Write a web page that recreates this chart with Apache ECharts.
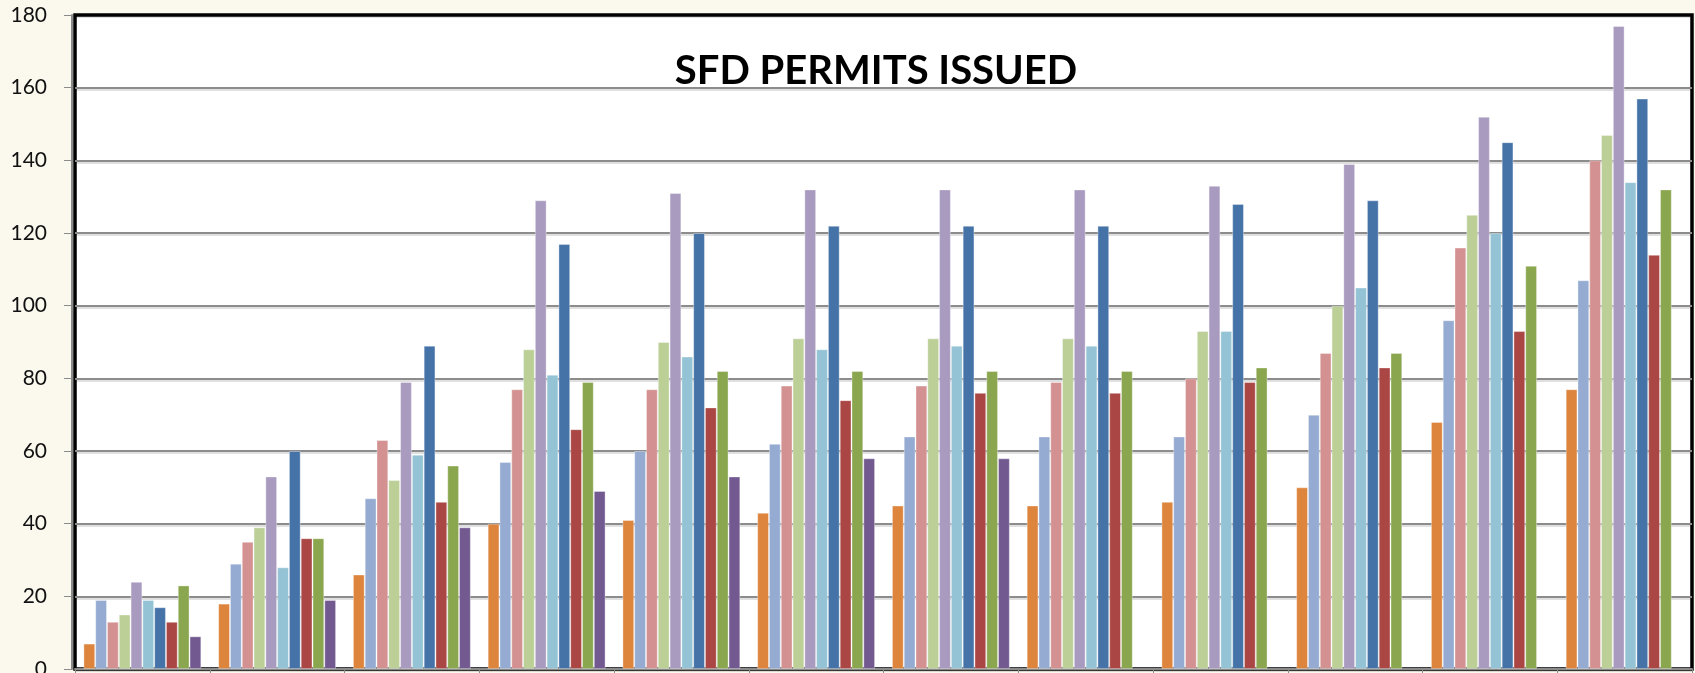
<!DOCTYPE html>
<html>
<head>
<meta charset="utf-8">
<script src="https://cdn.jsdelivr.net/npm/echarts@6/dist/echarts.min.js"></script>
<style>
html,body{margin:0;padding:0;background:#FBF8EE;}
#chart{width:1695px;height:673px;}
</style>
</head>
<body>
<div id="chart"></div>
<script>
const categories = ['Jan','Feb','Mar','Apr','May','Jun','Jul','Aug','Sep','Oct','Nov','Dec'];
const yTicks = [0,20,40,60,80,100,120,140,160,180];
const seriesNames = ['S1','S2','S3','S4','S5','S6','S7','S8','S9','S10'];
const seriesColors = ['#DD843D','#95ABD2','#D39291','#BBCF97','#A99BC0','#93C3D4','#4573A8','#AA4744','#8AA64E','#725A90'];
const s1  = [7, 18, 26, 40, 41, 43, 45, 45, 46, 50, 68, 77];
const s2  = [19, 29, 47, 57, 60, 62, 64, 64, 64, 70, 96, 107];
const s3  = [13, 35, 63, 77, 77, 78, 78, 79, 80, 87, 116, 140];
const s4  = [15, 39, 52, 88, 90, 91, 91, 91, 93, 100, 125, 147];
const s5  = [24, 53, 79, 129, 131, 132, 132, 132, 133, 139, 152, 177];
const s6  = [19, 28, 59, 81, 86, 88, 89, 89, 93, 105, 120, 134];
const s7  = [17, 60, 89, 117, 120, 122, 122, 122, 128, 129, 145, 157];
const s8  = [13, 36, 46, 66, 72, 74, 76, 76, 79, 83, 93, 114];
const s9  = [23, 36, 56, 79, 82, 82, 82, 82, 83, 87, 111, 132];
const s10 = [9, 19, 39, 49, 53, 58, 58, null, null, null, null, null];
const seriesValues = [s1,s2,s3,s4,s5,s6,s7,s8,s9,s10];

const splitColors = yTicks.map((t, i) => i === yTicks.length - 1 ? '#000' : '#8c8c8c');

const chart = echarts.init(document.getElementById('chart'));
chart.setOption({
  backgroundColor: '#FBF8EE',
  animation: false,
  title: {
    text: 'SFD PERMITS ISSUED',
    left: 871, top: 46, textAlign: 'center',
    textStyle: {fontFamily: 'Lato', fontWeight: 'bold', fontSize: 40, color: '#000'}
  },
  grid: {
    left: 75, right: 3, top: 15, bottom: 4,
    outerBoundsMode: 'none',
    show: true, backgroundColor: '#fff', borderColor: '#000', borderWidth: 3.5,
    containLabel: false
  },
  xAxis: {
    type: 'category', data: categories,
    offset: 2,
    axisLine: {show: true, lineStyle: {color: '#8a8a8a', width: 2}},
    axisTick: {show: true, length: 6, lineStyle: {color: '#8a8a8a', width: 1}},
    axisLabel: {show: false}
  },
  yAxis: {
    type: 'value', min: yTicks[0], max: yTicks[yTicks.length-1], interval: 20,
    offset: 3,
    axisLine: {show: true, lineStyle: {color: '#8a8a8a', width: 2}},
    axisTick: {show: true, length: 8, lineStyle: {color: '#8a8a8a', width: 1}},
    axisLabel: {fontFamily: 'Lato', fontSize: 21, color: '#111', margin: 25},
    splitLine: {lineStyle: {color: splitColors, width: 2, shadowColor: 'rgba(0,0,0,0.12)', shadowOffsetY: 2, shadowBlur: 0}}
  },
  series: seriesValues.map((vals, i) => ({
    name: seriesNames[i],
    type: 'bar',
    data: vals,
    barGap: '0%',
    barCategoryGap: '12.5%',
    itemStyle: {color: seriesColors[i], borderColor: 'rgba(255,255,255,0.35)', borderWidth: 1}
  }))
});
</script>
</body>
</html>
